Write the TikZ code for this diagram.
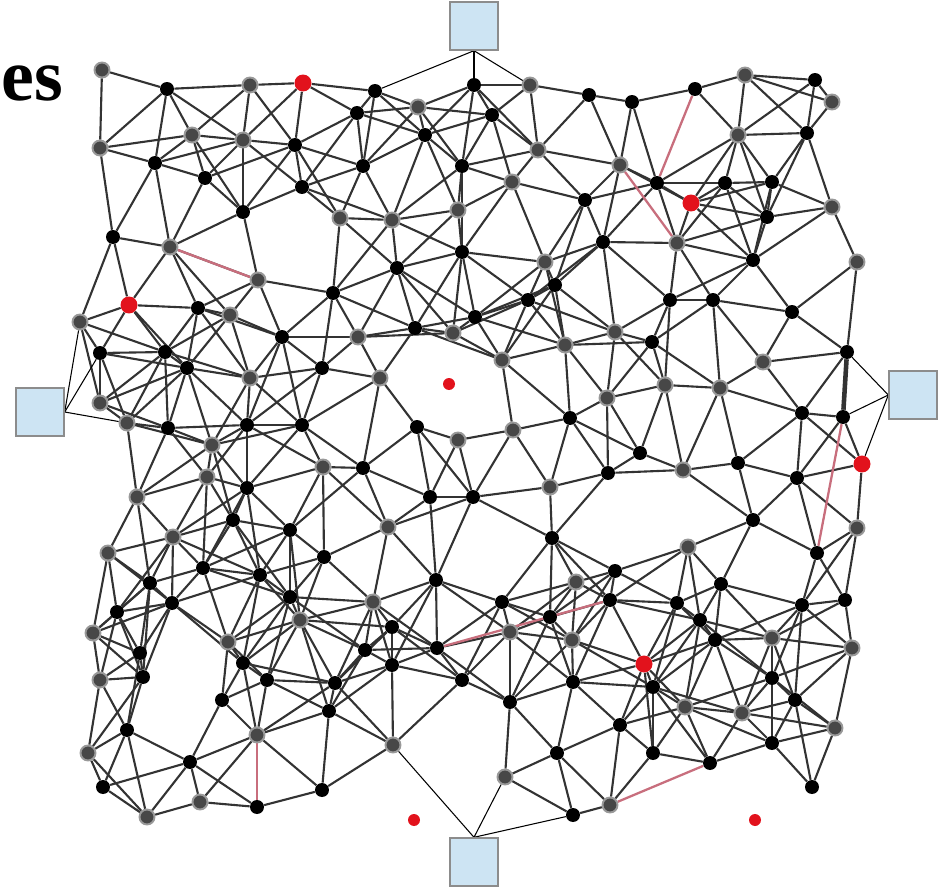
\documentclass[tikz,border=0pt]{standalone}
\usepackage{fontspec}
\setmainfont{Liberation Serif}
\usetikzlibrary{backgrounds}
\definecolor{redc}{RGB}{226,18,28}
\definecolor{sqblue}{RGB}{205,228,243}
\definecolor{sqgray}{RGB}{140,140,140}
\definecolor{pinke}{RGB}{200,110,125}
\tikzset{
  bnode/.style={circle,fill=black,inner sep=0pt,minimum size=0.28cm},
  gnode/.style={circle,fill=black!72,draw=black!40,line width=1.1pt,inner sep=0pt,minimum size=0.30cm},
  rnode/.style={circle,fill=redc,inner sep=0pt,minimum size=0.34cm},
  snode/.style={circle,fill=redc,inner sep=0pt,minimum size=0.24cm},
  sqnode/.style={rectangle,fill=sqblue,draw=sqgray,line width=0.8pt,minimum size=0.96cm,inner sep=0pt},
  edge/.style={draw=black!80,line width=1.2pt},
  redge/.style={draw=pinke,line width=1.3pt},
  sqlink/.style={draw=black,line width=0.6pt}
}
\def\nodelist{1/102/70/gnode,2/167/89/bnode,3/250/85/gnode,4/375/91/bnode,5/418/107/gnode,6/357/113/bnode,7/474/85/bnode,8/530/85/gnode,9/492/115/bnode,10/589/95/bnode,
11/632/102/bnode,12/695/89/bnode,13/745/75/gnode,14/815/80/bnode,15/832/102/gnode,16/192/135/gnode,17/243/140/gnode,18/295/145/bnode,19/100/148/gnode,20/155/163/bnode,
21/205/178/bnode,22/302/187/bnode,23/425/135/bnode,24/538/150/gnode,25/363/166/bnode,26/462/166/bnode,27/512/182/gnode,28/585/200/bnode,29/738/135/gnode,30/807/133/bnode,
31/620/165/gnode,32/657/183/bnode,33/725/183/bnode,34/772/182/bnode,35/767/217/bnode,36/832/207/gnode,37/113/237/bnode,38/170/247/gnode,39/243/212/bnode,40/340/218/gnode,
41/392/220/gnode,42/458/210/gnode,43/603/242/bnode,44/677/243/gnode,45/753/260/bnode,46/857/262/gnode,47/462/252/bnode,48/545/262/gnode,49/397/268/bnode,50/555/285/bnode,
51/258/280/gnode,52/333/293/bnode,53/528/300/bnode,54/670/300/bnode,55/713/300/bnode,56/80/322/gnode,57/198/308/bnode,58/230/315/gnode,59/100/353/bnode,60/165/352/bnode,
61/187/368/bnode,62/282/337/bnode,63/322/368/bnode,64/250/378/gnode,65/415/328/bnode,66/358/337/gnode,67/453/333/gnode,68/475/317/bnode,69/502/360/gnode,70/565/345/gnode,
71/615/332/gnode,72/792/312/bnode,73/652/342/bnode,74/847/352/bnode,75/763/362/gnode,76/665/385/gnode,77/720/388/gnode,78/380/378/gnode,79/607/398/gnode,80/570/418/bnode,
81/802/413/bnode,82/843/417/bnode,83/100/403/gnode,84/127/423/gnode,85/168/428/bnode,86/247/425/bnode,87/302/425/bnode,88/212/445/gnode,89/417/427/bnode,90/458/440/gnode,
91/513/430/gnode,92/640/453/bnode,93/683/470/gnode,94/738/463/bnode,95/797/478/bnode,96/207/477/gnode,97/247/488/bnode,98/323/467/gnode,99/363/468/bnode,100/137/497/gnode,
101/233/520/bnode,102/290/530/bnode,103/173/537/gnode,104/108/553/gnode,105/203/568/bnode,106/260/575/bnode,107/324/557/bnode,108/150/583/bnode,109/430/497/bnode,110/473/497/bnode,
111/550/487/gnode,112/608/473/bnode,113/388/527/gnode,114/552/538/bnode,115/615/571/bnode,116/436/580/bnode,117/576/582/gnode,118/753/520/bnode,119/857/528/gnode,120/688/547/gnode,
121/817/553/bnode,122/721/584/bnode,123/117/612/bnode,124/172/603/bnode,125/93/633/gnode,126/140/653/bnode,127/143/677/bnode,128/100/680/gnode,129/127/730/bnode,130/88/753/gnode,
131/103/787/bnode,132/147/817/gnode,133/190/762/bnode,134/200/802/gnode,135/257/807/bnode,136/257/735/gnode,137/222/700/bnode,138/243/663/bnode,139/228/642/gnode,140/267/680/bnode,
141/290/597/bnode,142/300/620/gnode,143/329/711/bnode,144/322/790/bnode,145/373/602/gnode,146/392/627/bnode,147/365/650/bnode,148/392/665/bnode,149/437/648/bnode,150/502/602/bnode,
151/550/617/bnode,152/510/632/gnode,153/610/600/bnode,154/335/683/bnode,155/462/680/bnode,156/510/702/bnode,157/573/682/bnode,158/572/640/gnode,159/393/745/gnode,160/620/725/bnode,
161/557/753/bnode,162/505/777/gnode,163/573/815/bnode,164/610/805/gnode,165/677/603/bnode,166/802/605/bnode,167/845/600/bnode,168/700/620/bnode,169/715/640/bnode,170/772/638/gnode,
171/852/648/gnode,172/653/687/bnode,173/772/678/bnode,174/795/700/bnode,175/685/707/gnode,176/742/713/gnode,177/835/728/gnode,178/653/753/bnode,179/772/743/bnode,180/710/763/bnode,
181/812/787/bnode,182/303/83/rnode,183/691/203/rnode,184/129/305/rnode,185/862/464/rnode,186/644/664/rnode}
\def\nodecount{186}
\def\edgethr{9216}
% pairs left out so that the holes of the reference stay empty
\def\skippair#1#2{\expandafter\def\csname ex-#1-#2\endcsname{}}
\skippair{67}{78}
\skippair{69}{90}
\skippair{126}{139}
\skippair{127}{137}
\skippair{127}{139}
\skippair{126}{137}
\skippair{93}{120}
\begin{document}
\begin{tikzpicture}[x=0.02cm,y=-0.02cm]
\useasboundingbox (0,0) rectangle (938,889);
% text
\node[anchor=base west,inner sep=0pt,font=\fontsize{42pt}{42pt}\selectfont\bfseries] (title) at (1,100) {es};
% nodes
\foreach \i/\x/\y/\ty in \nodelist {
  \node[\ty] (n\i) at (\x,\y) {};
  \expandafter\xdef\csname nx\i\endcsname{\x}
  \expandafter\xdef\csname ny\i\endcsname{\y}
}
% isolated red dots
\node[snode] (s1) at (449,384) {};
\node[snode] (s2) at (414,820) {};
\node[snode] (s3) at (755,820) {};
% squares
\node[sqnode] (topsq) at (474,26) {};
\node[sqnode] (leftsq) at (40,412) {};
\node[sqnode] (rightsq) at (913,395) {};
\node[sqnode] (botsq) at (474,862) {};
\begin{pgfonlayer}{background}
\pgfmathtruncatemacro\lastI{\nodecount-1}
\foreach \i in {1,...,\lastI} {
  \pgfmathtruncatemacro\jst{\i+1}
  \foreach \j in {\jst,...,\nodecount} {
    \ifcsname ex-\i-\j\endcsname\else
    \ifnum\numexpr(\csname nx\i\endcsname-\csname nx\j\endcsname)*(\csname nx\i\endcsname-\csname nx\j\endcsname)+(\csname ny\i\endcsname-\csname ny\j\endcsname)*(\csname ny\i\endcsname-\csname ny\j\endcsname)\relax<\edgethr\relax
      \draw[edge] (n\i) -- (n\j);
    \fi
    \fi
  }
}
\draw[edge,line width=2.6pt] (n74) -- (n82);
\draw[redge] (n38) -- (n51);
\draw[redge] (n12) -- (n32);
\draw[redge] (n31) -- (n44);
\draw[redge] (n82) -- (n121);
\draw[redge] (n136) -- (n135);
\draw[redge] (n149) -- (n153);
\draw[redge] (n164) -- (n180);
% square links
\draw[sqlink] (topsq.south) -- (n4);
\draw[sqlink] (topsq.south) -- (n7);
\draw[sqlink] (topsq.south) -- (n8);
\draw[sqlink] (leftsq.east) -- (n56);
\draw[sqlink] (leftsq.east) -- (n59);
\draw[sqlink] (leftsq.east) -- (n84);
\draw[sqlink] (rightsq.west) -- (n74);
\draw[sqlink] (rightsq.west) -- (n82);
\draw[sqlink] (rightsq.west) -- (n185);
\draw[sqlink] (botsq.north) -- (n159);
\draw[sqlink] (botsq.north) -- (n162);
\draw[sqlink] (botsq.north) -- (n163);
\end{pgfonlayer}
\end{tikzpicture}
\end{document}
